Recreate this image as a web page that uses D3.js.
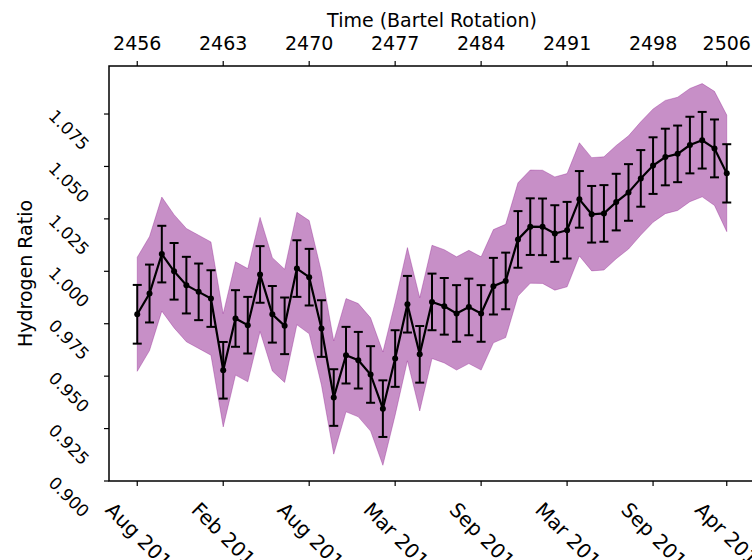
<!DOCTYPE html>
<html>
<head>
<meta charset="utf-8">
<script src="https://cdn.jsdelivr.net/npm/d3@7"></script>
<style>
    body { margin: 0; background: white; }
    text { font-family: "DejaVu Sans", sans-serif; fill: #000; }
</style>
</head>
<body>
<div id="chart"></div>
<script>
// one point per rotation (index along the x axis)
var ratio = [0.9795, 0.9894, 1.0082, 1.0000, 0.9934, 0.9902, 0.9870, 0.9528, 0.9775, 0.9743,
             0.9985, 0.9795, 0.9740, 1.0013, 0.9972, 0.9727, 0.9398, 0.9600, 0.9576, 0.9508,
             0.9345, 0.9584, 0.9843, 0.9604, 0.9854, 0.9833, 0.9799, 0.9830, 0.9799, 0.9929,
             0.9954, 1.0152, 1.0213, 1.0212, 1.0180, 1.0196, 1.0343, 1.0272, 1.0276, 1.0330,
             1.0376, 1.0443, 1.0504, 1.0545, 1.0560, 1.0602, 1.0625, 1.0586, 1.0467];

// half length of the error bars
var errBar = [0.0140, 0.0138, 0.0135, 0.0135, 0.0135, 0.0135, 0.0135, 0.0135, 0.0135, 0.0135,
              0.0135, 0.0135, 0.0135, 0.0135, 0.0135, 0.0135, 0.0135, 0.0135, 0.0135, 0.0135,
              0.0135, 0.0135, 0.0135, 0.0135, 0.0135, 0.0135, 0.0135, 0.0135, 0.0135, 0.0135,
              0.0135, 0.0135, 0.0135, 0.0135, 0.0135, 0.0135, 0.0135, 0.0135, 0.0135, 0.0135,
              0.0135, 0.0135, 0.0135, 0.0135, 0.0135, 0.0135, 0.0135, 0.0138, 0.0139];

// half width of the shaded band
var bandErr = [0.0272, 0.0272, 0.0272, 0.0270, 0.0270, 0.0270, 0.0270, 0.0270, 0.0270, 0.0270,
               0.0272, 0.0270, 0.0270, 0.0268, 0.0270, 0.0270, 0.0270, 0.0270, 0.0270, 0.0270,
               0.0270, 0.0270, 0.0270, 0.0270, 0.0270, 0.0270, 0.0270, 0.0270, 0.0270, 0.0270,
               0.0270, 0.0270, 0.0270, 0.0270, 0.0270, 0.0270, 0.0270, 0.0270, 0.0270, 0.0270,
               0.0270, 0.0270, 0.0270, 0.0270, 0.0270, 0.0270, 0.0270, 0.0272, 0.0278];

var topTickIndex  = [0, 7, 14, 21, 28, 35, 42, 48];
var topTickLabels = ["2456", "2463", "2470", "2477", "2484", "2491", "2498", "2506"];
var dateLabels    = ["Aug 2013", "Feb 2014", "Aug 2014", "Mar 2015", "Sep 2015", "Mar 2016", "Sep 2016", "Apr 2017"];
var yTicks = [0.900, 0.925, 0.950, 0.975, 1.000, 1.025, 1.050, 1.075];

function init() {

    var w = 752;
    var h = 560;

    var left = 109, right = 755, top = 66, bottom = 481;
    var tickLen = 5;

    var xScale = d3.scaleLinear()
                   .domain([-2.3, 50.3])
                   .range([left, right]);

    var yScale = d3.scaleLinear()
                   .domain([0.9, 1.0979])
                   .range([bottom, top]);

    var svg = d3.select("#chart")
                .append("svg")
                .attr("width", w)
                .attr("height", h)
                .style("background-color", "white");

    //band
    var band = d3.area()
                 .x(function(d, i) { return xScale(i); })
                 .y0(function(d, i) { return yScale(d - bandErr[i]); })
                 .y1(function(d, i) { return yScale(d + bandErr[i]); });

    svg.append("path")
       .datum(ratio)
       .attr("d", band)
       .attr("fill", "purple")
       .attr("fill-opacity", 0.44)
       .attr("stroke", "purple")
       .attr("stroke-opacity", 0.3)
       .attr("stroke-width", 1);

    //error bars
    var bars = svg.selectAll("g.err")
                  .data(ratio)
                  .enter()
                  .append("g")
                  .attr("class", "err")
                  .attr("stroke", "#000")
                  .attr("stroke-width", 2);

    bars.append("line")
        .attr("x1", function(d, i) { return xScale(i); })
        .attr("x2", function(d, i) { return xScale(i); })
        .attr("y1", function(d, i) { return yScale(d - errBar[i]); })
        .attr("y2", function(d, i) { return yScale(d + errBar[i]); });

    bars.append("line")
        .attr("x1", function(d, i) { return xScale(i) - 4.5; })
        .attr("x2", function(d, i) { return xScale(i) + 4.5; })
        .attr("y1", function(d, i) { return yScale(d + errBar[i]); })
        .attr("y2", function(d, i) { return yScale(d + errBar[i]); });

    bars.append("line")
        .attr("x1", function(d, i) { return xScale(i) - 4.5; })
        .attr("x2", function(d, i) { return xScale(i) + 4.5; })
        .attr("y1", function(d, i) { return yScale(d - errBar[i]); })
        .attr("y2", function(d, i) { return yScale(d - errBar[i]); });

    //line + markers
    var line = d3.line()
                 .x(function(d, i) { return xScale(i); })
                 .y(function(d) { return yScale(d); });

    svg.append("path")
       .datum(ratio)
       .attr("d", line)
       .attr("fill", "none")
       .attr("stroke", "#000")
       .attr("stroke-width", 2.2);

    svg.selectAll("circle")
       .data(ratio)
       .enter()
       .append("circle")
       .attr("cx", function(d, i) { return xScale(i); })
       .attr("cy", function(d) { return yScale(d); })
       .attr("r", 3)
       .attr("fill", "#000");

    //frame
    svg.append("rect")
       .attr("x", left)
       .attr("y", top)
       .attr("width", right - left)
       .attr("height", bottom - top)
       .attr("fill", "none")
       .attr("stroke", "#000")
       .attr("stroke-width", 1.5);

    //left axis
    svg.selectAll("line.ytick")
       .data(yTicks)
       .enter()
       .append("line")
       .attr("class", "ytick")
       .attr("x1", left - tickLen)
       .attr("x2", left)
       .attr("y1", function(d) { return yScale(d); })
       .attr("y2", function(d) { return yScale(d); })
       .attr("stroke", "#000")
       .attr("stroke-width", 1.2);

    svg.selectAll("text.ylab")
       .data(yTicks)
       .enter()
       .append("text")
       .attr("class", "ylab")
       .text(function(d) { return d3.format(".3f")(d); })
       .attr("transform", function(d) {
           return "translate(69," + (yScale(d) + 16) + ") rotate(45)";
       })
       .attr("text-anchor", "middle")
       .attr("dominant-baseline", "central")
       .style("font-size", "17px");

    svg.append("text")
       .text("Hydrogen Ratio")
       .attr("transform", "translate(25," + ((top + bottom) / 2) + ") rotate(-90)")
       .attr("text-anchor", "middle")
       .attr("dominant-baseline", "central")
       .style("font-size", "19px");

    //top axis (Bartel rotation)
    svg.selectAll("line.ttick")
       .data(topTickIndex)
       .enter()
       .append("line")
       .attr("class", "ttick")
       .attr("x1", function(d) { return xScale(d); })
       .attr("x2", function(d) { return xScale(d); })
       .attr("y1", top - tickLen)
       .attr("y2", top)
       .attr("stroke", "#000")
       .attr("stroke-width", 1.2);

    svg.selectAll("text.tlab")
       .data(topTickIndex)
       .enter()
       .append("text")
       .attr("class", "tlab")
       .text(function(d, i) { return topTickLabels[i]; })
       .attr("x", function(d) { return xScale(d); })
       .attr("y", 50)
       .attr("text-anchor", "middle")
       .style("font-size", "19px");

    svg.append("text")
       .text("Time (Bartel Rotation)")
       .attr("x", (left + right) / 2)
       .attr("y", 27)
       .attr("text-anchor", "middle")
       .style("font-size", "19px");

    //bottom axis (dates), cut by the lower edge like the original
    svg.selectAll("line.btick")
       .data(topTickIndex)
       .enter()
       .append("line")
       .attr("class", "btick")
       .attr("x1", function(d) { return xScale(d); })
       .attr("x2", function(d) { return xScale(d); })
       .attr("y1", bottom)
       .attr("y2", bottom + tickLen)
       .attr("stroke", "#000")
       .attr("stroke-width", 1.2);

    svg.selectAll("text.blab")
       .data(topTickIndex)
       .enter()
       .append("text")
       .attr("class", "blab")
       .text(function(d, i) { return dateLabels[i]; })
       .attr("text-anchor", "start")
       .style("font-size", "20px")
       .attr("transform", function(d) {
           return "translate(" + (xScale(d) - 33) + "," + (bottom + 30) + ") rotate(45)";
       });
}

window.onload = init;
</script>
</body>
</html>
